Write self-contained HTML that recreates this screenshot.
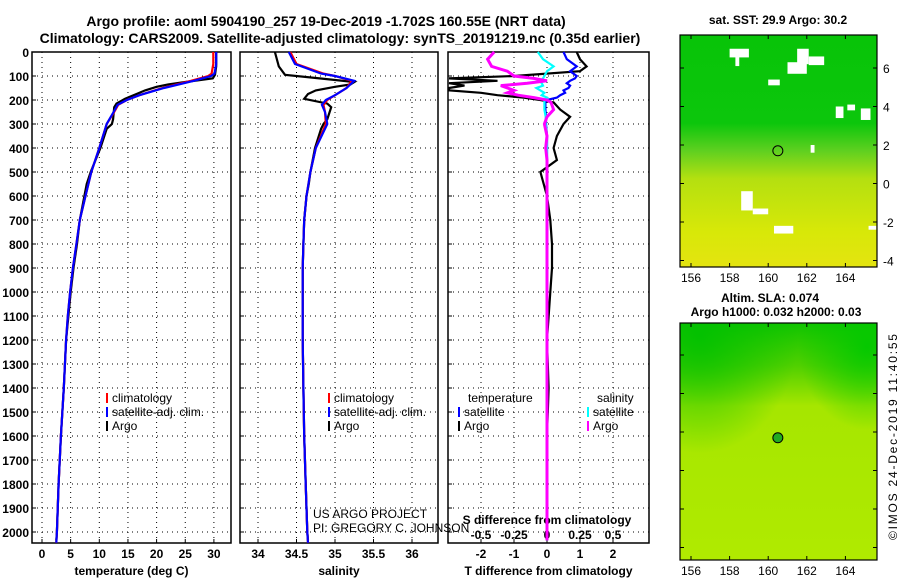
<!DOCTYPE html>
<html><head><meta charset="utf-8"><style>
html,body{margin:0;padding:0;background:#fff;}
svg{display:block;font-family:"Liberation Sans",Arial,sans-serif;}
text{font-weight:bold;}
</style></head><body>
<svg id="c" width="900" height="580" viewBox="0 0 900 580">
<defs>
<linearGradient id="g1" x1="0" y1="0" x2="0" y2="1">
<stop offset="0" stop-color="#08c408"/><stop offset="0.38" stop-color="#0cc60c"/><stop offset="0.5" stop-color="#60d020"/><stop offset="0.62" stop-color="#b4e010"/><stop offset="0.85" stop-color="#d8e808"/><stop offset="1" stop-color="#e4e410"/></linearGradient>
<linearGradient id="g2" x1="0" y1="0" x2="0" y2="1">
<stop offset="0" stop-color="#10c400"/><stop offset="0.18" stop-color="#50d000"/><stop offset="0.35" stop-color="#a6e600"/><stop offset="1" stop-color="#b0ea00"/></linearGradient>
<radialGradient id="g2c" cx="0.1" cy="0.05" r="0.5"><stop offset="0" stop-color="#00c000" stop-opacity="0.9"/><stop offset="1" stop-color="#00c000" stop-opacity="0"/></radialGradient>
<radialGradient id="g2d" cx="0.95" cy="0.1" r="0.35"><stop offset="0" stop-color="#00c800" stop-opacity="0.9"/><stop offset="1" stop-color="#00c800" stop-opacity="0"/></radialGradient>
</defs>
<text x="326" y="26" font-size="14" text-anchor="middle">Argo profile: aoml 5904190_257 19-Dec-2019 -1.702S 160.55E (NRT data)</text>
<text x="340" y="43" font-size="14" text-anchor="middle">Climatology: CARS2009. Satellite-adjusted climatology: synTS_20191219.nc (0.35d earlier)</text>
<g id="p1"></g>
<g id="p2"></g>
<g id="p3"></g>
<g id="m1"></g>
<g id="m2"></g>
<text x="778" y="24" font-size="12" text-anchor="middle">sat. SST: 29.9 Argo: 30.2</text>
<text x="770" y="302" font-size="12" text-anchor="middle">Altim. SLA: 0.074</text>
<text x="776" y="316" font-size="12" text-anchor="middle">Argo h1000: 0.032 h2000: 0.03</text>
<text transform="translate(897,540) rotate(-90)" font-size="12" textLength="206" style="font-weight:normal">©IMOS 24-Dec-2019 11:40:55</text>
<text x="313" y="518" font-size="12" style="font-weight:normal">US ARGO PROJECT</text>
<text x="313" y="532" font-size="12" style="font-weight:normal">PI: GREGORY C. JOHNSON</text>
</svg>
<script>
const NS='http://www.w3.org/2000/svg';
function mk(p,t,a){const e=document.createElementNS(NS,t);for(const k in a)e.setAttribute(k,a[k]);p.appendChild(e);return e;}
const depthTicks=[0,100,200,300,400,500,600,700,800,900,1000,1100,1200,1300,1400,1500,1600,1700,1800,1900,2000];
function yD(d){return 52+d*0.24;}
const tDepth=[0,50,90,100,120,150,180,200,220,250,300,400,500,600,700,800,900,1000,1100,1200,1400,1600,1800,2000,2045];
const tClim=[29.9,29.9,29.6,29,26,21,17,14.8,13.3,12.6,11.3,10,8.6,7.6,6.6,6,5.4,4.9,4.5,4.2,3.8,3.3,2.9,2.6,2.5];
const tSat=[30.4,30.4,30.1,29.5,26.5,21.3,17,14.8,13.2,12.5,11.3,10,8.6,7.6,6.6,6,5.4,4.9,4.5,4.2,3.8,3.3,2.9,2.6,2.5];
const aDepth=[0,60,95,110,125,135,145,160,175,195,215,230,280,300,320,400,500,550,600,700,800,900,1000,1100,1200,1400,1600,1800,2000,2035];
const tArgo=[30.4,30.4,30.2,29.8,25,22,20,18,16.5,14.5,13,12.6,12.4,12.2,11.3,10.2,8.5,7.8,7.4,6.6,6.1,5.5,5,4.6,4.2,3.8,3.3,2.9,2.6,2.5];
const sClim=[34.42,34.5,34.85,35.0,35.22,35.15,35.0,34.9,34.85,34.87,34.88,34.75,34.68,34.63,34.6,34.59,34.58,34.58,34.58,34.58,34.59,34.6,34.62,34.64,34.65];
const sSat=[34.4,34.48,34.82,35.0,35.25,35.15,35.0,34.88,34.83,34.87,34.9,34.75,34.68,34.63,34.6,34.59,34.58,34.58,34.58,34.58,34.59,34.6,34.62,34.64,34.65];
const sArgo=[34.22,34.27,34.35,34.8,35.25,35.2,35.0,34.75,34.65,34.6,34.9,34.95,34.9,34.85,34.82,34.74,34.68,34.66,34.63,34.6,34.59,34.58,34.58,34.58,34.58,34.59,34.6,34.62,34.64,34.65];
const dDepth=[0,30,60,80,100,110,120,130,140,150,160,170,180,190,200,210,240,270,300,350,400,450,500,550,600,700,800,900,1000,1200,1400,1600,1800,2000,2035];
const dTArgo=[0.9,1.0,1.2,1.0,-1.0,-3.5,-1.5,-3.5,-2.5,-3.5,-3.0,-2.0,-1.5,-0.7,-0.2,0.2,0.4,0.7,0.5,0.3,0.2,0.3,-0.2,-0.1,0.0,0.1,0.15,0.15,0.1,0.0,0.05,0.0,0.0,0.0,0.0];
const dTSat=[0.5,0.6,0.9,0.7,0.9,0.85,0.7,0.6,0.7,0.65,0.5,0.55,0.4,0.3,0.0,-0.05,-0.05,-0.03,-0.03,0.0,0.0,0.0,0.0,0.0,0.0,0.0,0.0,0.0,0.0,0.0,0.0,0.0,0.0,0.0,0.0];
const dSArgo=[-0.4,-0.45,-0.42,-0.3,-0.25,-0.1,0.0,-0.15,-0.35,-0.3,-0.25,-0.3,-0.22,-0.1,0.0,0.03,0.05,0.0,-0.02,0.0,-0.01,0.0,0.0,0.0,0.0,0.0,0.0,0.0,0.0,0.0,0.0,0.0,0.0,0.0,0.0];
const dSSat=[-0.07,-0.03,0.05,0.0,-0.02,-0.03,-0.05,-0.04,-0.03,-0.08,-0.05,-0.02,-0.04,0.0,-0.02,-0.02,-0.02,-0.01,-0.01,0.0,0.0,0.0,0.0,0.0,0.0,0.0,0.0,0.0,0.0,0.0,0.0,0.0,0.0,0.0,0.0];
const tTicks=[0,5,10,15,20,25,30], sTicks=[34,34.5,35,35.5,36], dTTicks=[-2,-1,0,1,2], dSTicks=['-0.5','-0.25','0','0.25','0.5'];

function panel(g,L,R,xf,ticks,label){
  const T=52,B=543;
  mk(g,'rect',{x:L,y:T,width:R-L,height:B-T,fill:'#fff',stroke:'#000','stroke-width':1.5});
  depthTicks.forEach(d=>{mk(g,'line',{x1:L,x2:R,y1:yD(d),y2:yD(d),stroke:'#000','stroke-dasharray':'1 4'});
    mk(g,'line',{x1:L,x2:L+4,y1:yD(d),y2:yD(d),stroke:'#000'});});
  ticks.forEach(v=>{const x=xf(+v);mk(g,'line',{x1:x,x2:x,y1:T,y2:B,stroke:'#000','stroke-dasharray':'1 4'});
    mk(g,'line',{x1:x,x2:x,y1:B,y2:B-4,stroke:'#000'});
    const t=mk(g,'text',{x:x,y:B+15,'font-size':12,'text-anchor':'middle'});t.textContent=v;
    
    });
  const t=mk(g,'text',{x:(L+R)/2,y:B+32,'font-size':12,'text-anchor':'middle'});t.textContent=label;
  
  
}
function line(g,xs,ds,xf,col,name,w){
  const p=xs.map((v,i)=>xf(v).toFixed(1)+','+yD(ds[i]).toFixed(1)).join(' ');
  const e=mk(g,'polyline',{points:p,fill:'none',stroke:col,'stroke-width':w||2.2});
  
  
}
function legend(g,x,y,items){
  items.forEach((it,i)=>{mk(g,'line',{x1:x,x2:x,y1:y+i*14-9,y2:y+i*14+1,stroke:it[1],'stroke-width':2});
    const t=mk(g,'text',{x:x+5,y:y+i*14,'font-size':12,style:'font-weight:normal'});t.textContent=it[0];
    
    });
}
const p1=document.getElementById('p1'),p2=document.getElementById('p2'),p3=document.getElementById('p3');
const xT=v=>42+v*5.73, xS=v=>258+(v-34)*77, xDT=v=>Math.max(449,547+v*33), xDS=v=>Math.max(449,547+v*132);
panel(p1,32,231,xT,tTicks,'temperature (deg C)');
depthTicks.forEach(d=>{const t=mk(p1,'text',{x:29,y:yD(d)+5,'font-size':12,'text-anchor':'end'});t.textContent=d;
  
  });
line(p1,tArgo,aDepth,xT,'#000','temp-argo-line');
line(p1,tClim,tDepth,xT,'#f00','temp-climatology-line');
line(p1,tSat,tDepth,xT,'#00f','temp-satellite-line');
legend(p1,107,402,[['climatology','#f00'],['satellite-adj. clim.','#00f'],['Argo','#000']]);
panel(p2,240,438,xS,sTicks,'salinity');
line(p2,sArgo,aDepth,xS,'#000','salinity-argo-line');
line(p2,sClim,tDepth,xS,'#f00','salinity-climatology-line');
line(p2,sSat,tDepth,xS,'#00f','salinity-satellite-line');
legend(p2,329,402,[['climatology','#f00'],['satellite-adj. clim.','#00f'],['Argo','#000']]);
panel(p3,448,649,xDT,dTTicks,'T difference from climatology');
dSTicks.forEach(v=>{const t=mk(p3,'text',{x:xDS(+v),y:539,'font-size':12,'text-anchor':'middle'});t.textContent=v;
  
  });
{const t=mk(p3,'text',{x:547,y:524,'font-size':12,'text-anchor':'middle'});t.textContent='S difference from climatology';
 
 }
line(p3,dTArgo,dDepth,xDT,'#000','tdiff-argo-line');
line(p3,dTSat,dDepth,xDT,'#00f','tdiff-satellite-line');
line(p3,dSSat,dDepth,xDS,'#0ff','sdiff-satellite-line');
line(p3,dSArgo,dDepth,xDS,'#f0f','sdiff-argo-line',3);
{const t=mk(p3,'text',{x:468,y:402,'font-size':12,style:'font-weight:normal'});t.textContent='temperature';
 
 const u=mk(p3,'text',{x:597,y:402,'font-size':12,style:'font-weight:normal'});u.textContent='salinity';
 }
legend(p3,459,416,[['satellite','#00f'],['Argo','#000']]);
legend(p3,588,416,[['satellite','#0ff'],['Argo','#f0f']]);

// maps
const lonTicks=[156,158,160,162,164], latTicks=[-4,-2,0,2,4,6];
const argoLon=160.5, argoLat=1.7;
const whitePatches1=[[158.0,7.0,1.0,0.45],[158.3,6.6,0.2,0.5],[161.5,7.0,0.6,0.8],[162.1,6.6,0.8,0.45],[161.0,6.3,1.0,0.6],[160.0,5.4,0.6,0.3],[164.1,4.1,0.4,0.3],[164.8,3.9,0.5,0.6],[163.5,4.0,0.4,0.6],[162.2,2.0,0.2,0.4],[158.6,-0.4,0.6,1.0],[159.2,-1.3,0.8,0.3],[160.3,-2.2,1.0,0.4],[165.2,-2.2,0.4,0.2]];
function map(g,T,B,lat6,grad,patches,labels){
  const L=680,R=877, x=lo=>691+(lo-156)*19.3, y=la=>lat6+(6-la)*19.25;
  mk(g,'rect',{x:L,y:T,width:R-L,height:B-T,fill:'url(#'+grad+')'});
  if(grad=='g2'){mk(g,'rect',{x:L,y:T,width:R-L,height:B-T,fill:'url(#g2c)'});mk(g,'rect',{x:L,y:T,width:R-L,height:B-T,fill:'url(#g2d)'});}
  patches.forEach(p=>{const r=mk(g,'rect',{x:x(p[0]),y:y(p[1]),width:p[2]*19.3,height:p[3]*19.25,fill:'#fff'});
    });
  mk(g,'rect',{x:L,y:T,width:R-L,height:B-T,fill:'none',stroke:'#000','stroke-width':1.2});
  const c=mk(g,'circle',{cx:x(argoLon),cy:y(argoLat),r:5,fill:grad=='g1'?'none':'#2a2','stroke':'#000'});
  
  lonTicks.forEach(v=>{mk(g,'line',{x1:x(v),x2:x(v),y1:B,y2:B-4,stroke:'#000'});mk(g,'line',{x1:x(v),x2:x(v),y1:T,y2:T+4,stroke:'#000'});
    const t=mk(g,'text',{x:x(v),y:B+15,'font-size':12,'text-anchor':'middle',style:'font-weight:normal'});t.textContent=v;
    });
  latTicks.forEach(v=>{const yy=y(v); mk(g,'line',{x1:R,x2:R-4,y1:yy,y2:yy,stroke:'#000'});mk(g,'line',{x1:L,x2:L+4,y1:yy,y2:yy,stroke:'#000'});
    if(labels){const t=mk(g,'text',{x:R+6,y:yy+5,'font-size':12,style:'font-weight:normal'});t.textContent=v;
    }});
}
map(document.getElementById('m1'),35,267,68,'g1',whitePatches1,true);
map(document.getElementById('m2'),323,560,355,'g2',[],false);
</script>
</body></html>
